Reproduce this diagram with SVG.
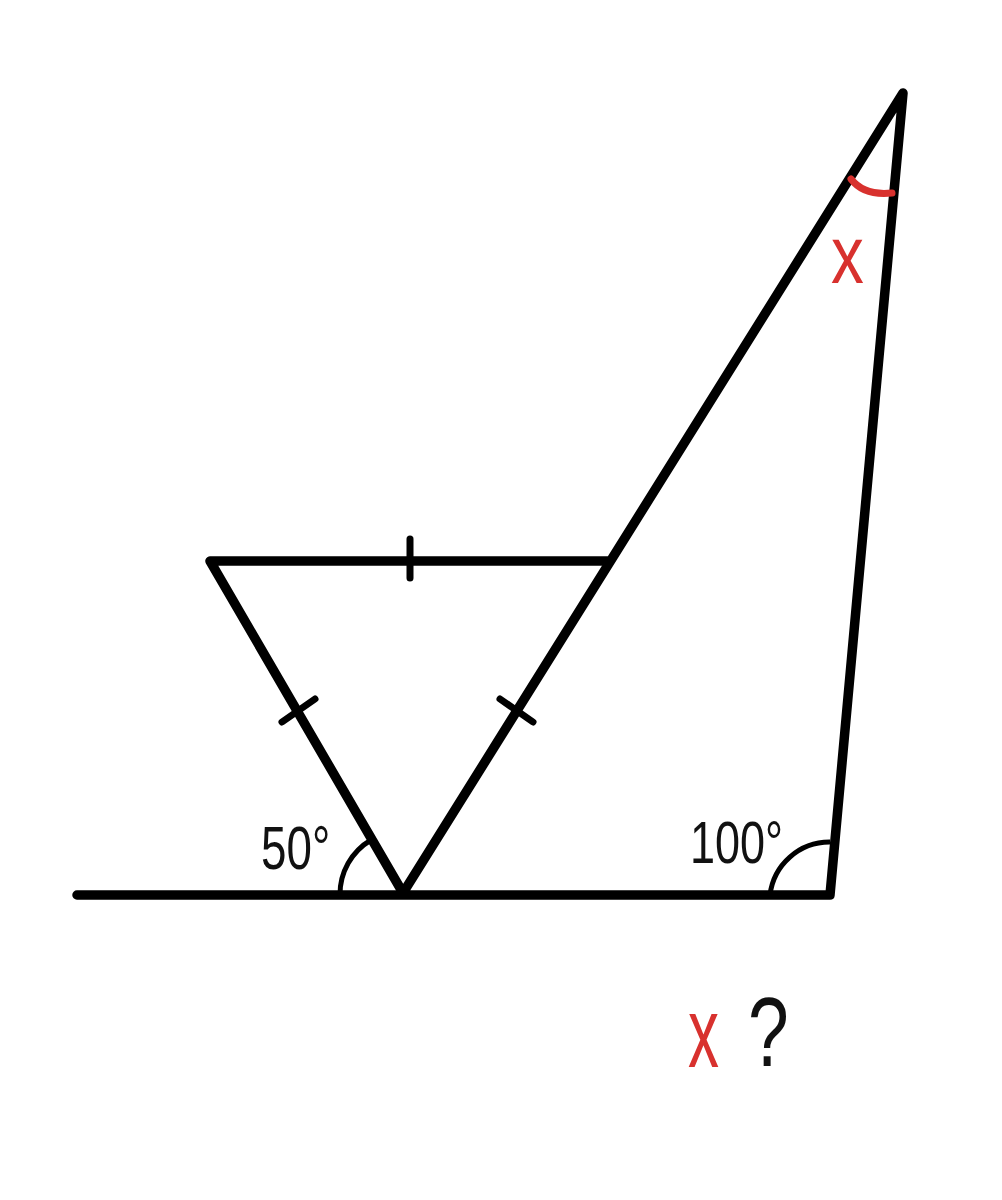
<svg xmlns="http://www.w3.org/2000/svg" width="1002" height="1200" viewBox="0 0 1002 1200">
<style>
.ln{stroke:#000;stroke-width:9.5;fill:none;stroke-linecap:round;stroke-linejoin:round}
.tk{stroke:#000;stroke-width:7;fill:none;stroke-linecap:round}
.arc{stroke:#000;stroke-width:5;fill:none}
.rarc{stroke:#d8312e;stroke-width:7;fill:none;stroke-linecap:round}
.lbl{font-family:"Liberation Sans",Arial,sans-serif;fill:#111}
.red{font-family:"Liberation Sans",Arial,sans-serif;fill:#d8312e}
</style>
<rect width="1002" height="1200" fill="#fff"/>
<g id="lines">
<polyline class="ln" points="77,895 830,895 903,93 403,893"/>
<polyline class="ln" points="403,893 210,561 607,561"/>
</g>
<g id="ticks">
<line class="tk" x1="410" y1="539" x2="410" y2="578"/>
<line class="tk" x1="282" y1="722" x2="315" y2="699"/>
<line class="tk" x1="500" y1="699" x2="533" y2="722"/>
</g>
<g id="angles">
<path class="arc" d="M340,895 A63,63 0 0 1 371,840"/>
<path class="arc" d="M770,895 A60,60 0 0 1 830,842"/>
<path class="rarc" d="M851,179 Q864,196 892,193"/>
</g>
<g id="labels">
<text class="lbl" font-size="61" transform="translate(261,869) scale(0.75,1)">50°</text>
<text class="lbl" font-size="60" transform="translate(690,863) scale(0.75,1)">100°</text>
<text class="red" font-size="82" transform="translate(831,283) scale(0.8,1)">x</text>
<text class="red" font-size="100" transform="translate(688,1067) scale(0.62,1)">x</text>
<text class="lbl" font-size="99" transform="translate(748,1066) scale(0.74,1)">?</text>
</g>
</svg>
